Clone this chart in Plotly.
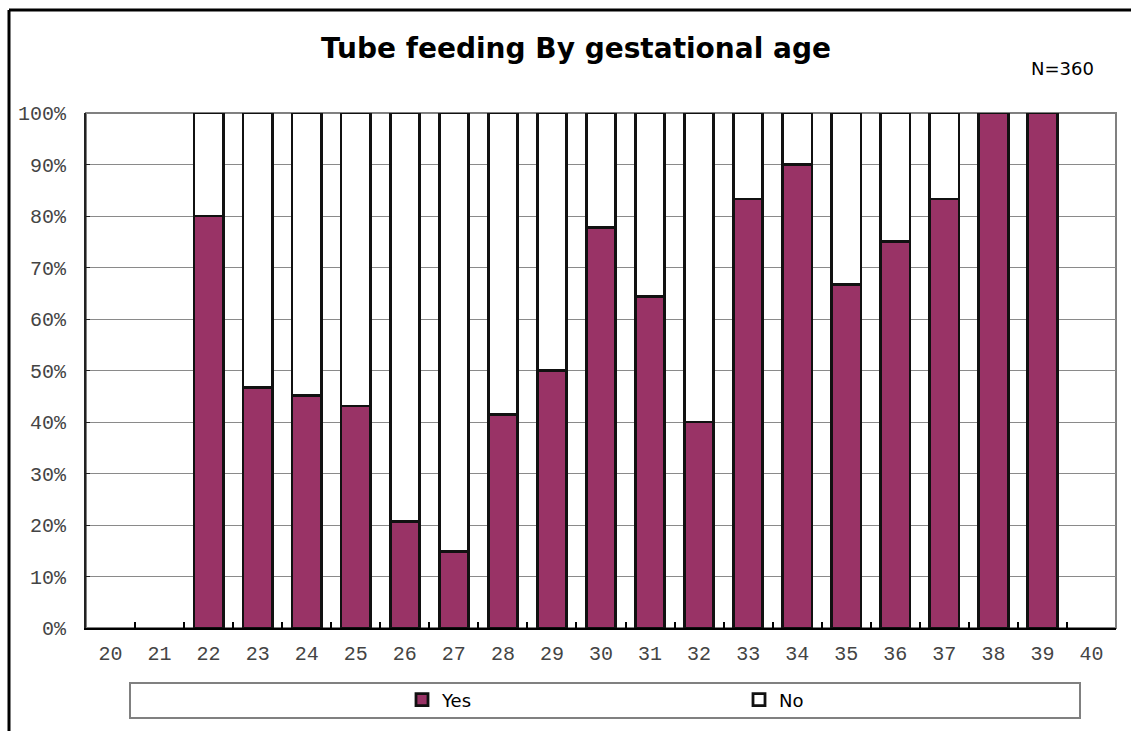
import plotly.graph_objects as go

# Gestational age (weeks) and share of infants tube fed, in percent
ages = [str(a) for a in range(20, 41)]
yes_pct = [None, None, 80.0, 46.7, 45.2, 43.1, 20.7, 14.8, 41.4, 50.0, 77.8,
           64.3, 40.0, 83.3, 90.0, 66.7, 75.0, 83.3, 100.0, 100.0, None]
no_pct = [None if v is None else round(100 - v, 1) for v in yes_pct]

title_text = "Tube feeding By gestational age"
n_text = "N=360"

W, H = 1131, 731
L, R, T, B = 86, 15, 113, 103
PW, PH = W - L - R, H - T - B


def px_x(p):
    return (p - L) / PW


def px_y(p):
    return (H - B - p) / PH


fig = go.Figure()
fig.add_trace(go.Bar(x=ages, y=yes_pct, name="Yes",
                     marker=dict(color="#993366", line=dict(color="#111111", width=2.8))))
fig.add_trace(go.Bar(x=ages, y=no_pct, name="No",
                     marker=dict(color="#ffffff", line=dict(color="#111111", width=2.8))))

shapes = [
    # gray frame of the plotting area
    dict(type="rect", xref="paper", yref="paper", x0=0, x1=1, y0=0, y1=1,
         line=dict(color="#808080", width=2), layer="below"),
    # legend box
    dict(type="rect", xref="paper", yref="paper",
         x0=px_x(130), x1=px_x(1080), y0=px_y(718), y1=px_y(683),
         line=dict(color="#808080", width=2), fillcolor="white", layer="below"),
    # outer chart border (top and left)
    dict(type="line", xref="paper", yref="paper",
         x0=px_x(9), x1=px_x(W), y0=px_y(10), y1=px_y(10),
         line=dict(color="black", width=3)),
    dict(type="line", xref="paper", yref="paper",
         x0=px_x(9), x1=px_x(9), y0=px_y(10), y1=px_y(H),
         line=dict(color="black", width=3)),
]

fig.update_layout(
    width=W, height=H,
    margin=dict(l=L, r=R, t=T, b=B, autoexpand=False),
    paper_bgcolor="white", plot_bgcolor="white",
    barmode="stack", bargap=0.4,
    title=dict(text=title_text, x=576 / W, xref="container", xanchor="center",
               y=1 - 48 / H, yref="container", yanchor="middle",
               font=dict(family="DejaVu Sans", size=28, color="black", weight="bold")),
    showlegend=True,
    legend=dict(orientation="h", x=px_x(402), xanchor="left",
                y=px_y(700), yanchor="middle",
                entrywidth=292, entrywidthmode="pixels",
                bgcolor="rgba(0,0,0,0)", borderwidth=0,
                font=dict(family="DejaVu Sans", size=18, color="black"),
                traceorder="normal"),
    shapes=shapes,
    annotations=[dict(text=n_text, xref="paper", yref="paper",
                      x=px_x(1096), y=px_y(69), xanchor="right", yanchor="middle",
                      showarrow=False,
                      font=dict(family="DejaVu Sans", size=18, color="black"))],
)

fig.update_xaxes(type="category", categoryorder="array", categoryarray=ages,
                 range=[-0.5, len(ages) - 0.5],
                 showline=True, linecolor="black", linewidth=2,
                 ticks="inside", tickson="boundaries", ticklen=6,
                 tickcolor="black", tickwidth=1.5,
                 ticklabelstandoff=6,
                 tickfont=dict(family="Liberation Mono", size=20, color="#444444"),
                 showgrid=False)
fig.update_yaxes(range=[0, 100], dtick=10, ticksuffix="%",
                 showline=True, linecolor="#222222", linewidth=2,
                 showgrid=True, gridcolor="#8a8a8a", gridwidth=1,
                 ticks="inside", ticklen=4, tickcolor="#222222",
                 ticklabelstandoff=14,
                 tickfont=dict(family="Liberation Mono", size=20, color="#444444"),
                 zeroline=False)

fig.write_html("out.html", config={"displayModeBar": False})
